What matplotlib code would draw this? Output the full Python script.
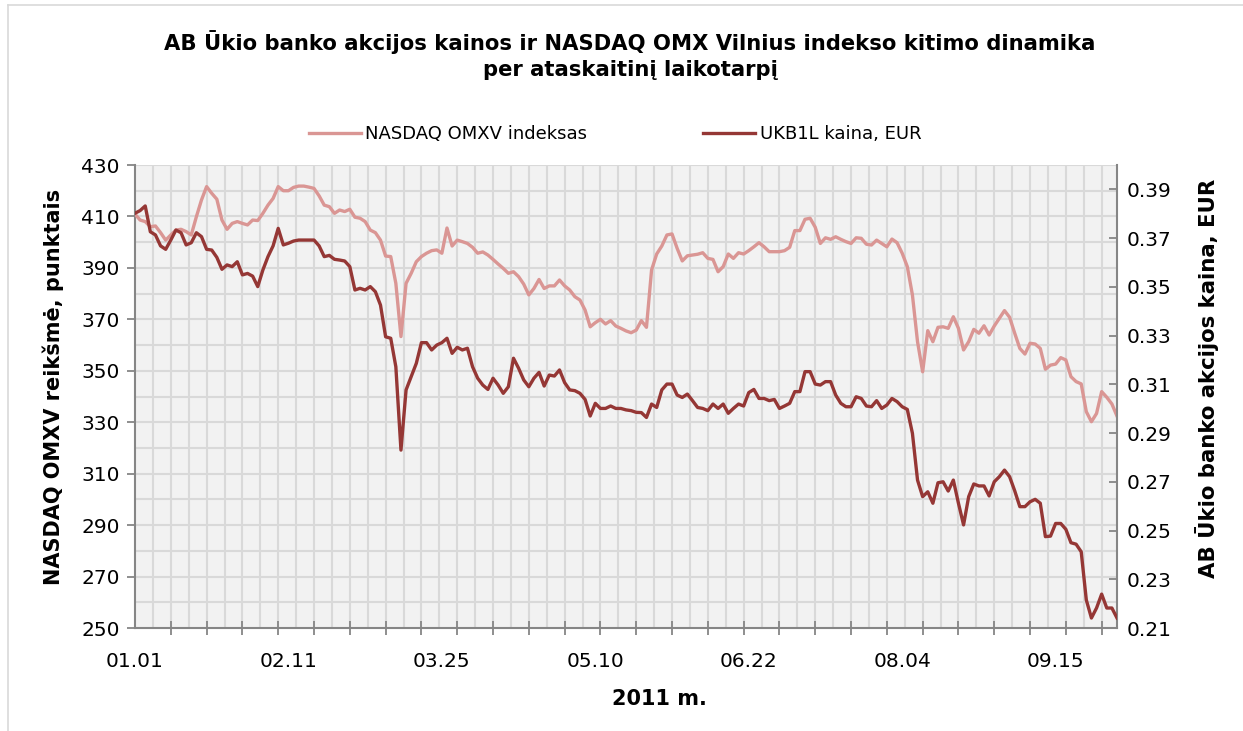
import numpy as np
import matplotlib
matplotlib.use("Agg")
import matplotlib.pyplot as plt
from matplotlib.lines import Line2D

# --- data (trading days, 2011) ---
tick_labels = ["01.01", "02.11", "03.25", "05.10", "06.22", "08.04", "09.15"]

# NASDAQ OMXV index, points (left axis)
nasdaq = [
    410.9, 408.6, 408.0, 406.0, 406.3, 403.7, 400.8, 402.8, 404.7, 405.0,
    404.1, 402.8, 409.9, 416.4, 421.6, 419.0, 416.7, 408.6, 405.0, 407.3,
    408.0, 407.3, 406.7, 408.6, 408.4, 411.2, 414.4, 417.0, 421.6, 420.0,
    420.0, 421.3,
    421.8, 421.8, 421.4, 420.9, 418.0, 414.4, 413.8, 411.2, 412.5, 411.9,
    412.8, 409.7, 409.3, 408.0, 404.7, 403.7, 400.8, 394.6, 394.4, 384.0,
    363.3, 384.0, 387.9, 392.4, 394.4, 395.7, 396.7, 397.0, 395.7, 405.5,
    398.5, 400.8, 400.2, 399.5, 398.0, 395.7, 396.2, 395.0, 393.3, 391.5,
    389.8, 387.9, 388.5, 386.6, 383.7, 379.5, 382.0, 385.5, 382.0, 383.0,
    383.0, 385.3, 383.0, 381.4, 378.8, 377.5, 373.6, 367.1, 368.7, 370.0,
    368.2, 369.5,
    367.4, 366.5, 365.5, 364.8, 365.8, 369.5, 366.9, 389.2, 395.4, 398.5,
    402.8, 403.2, 397.6, 392.7, 394.7, 395.0, 395.3, 395.9, 393.7, 393.3,
    388.5, 390.5, 395.4, 393.7, 395.9, 395.4, 396.7, 398.2, 399.8, 398.2,
    396.3, 396.3,
    396.3, 396.7, 398.0, 404.5, 404.5, 408.9, 409.3, 405.8, 399.5, 401.7,
    401.1, 402.1, 401.1, 400.2, 399.5, 401.7, 401.5, 399.2, 398.9, 400.8,
    399.5, 398.2, 401.2, 399.8, 395.7, 390.5, 379.5, 361.3, 349.6, 365.6,
    361.3,
    366.9, 367.1, 366.5, 371.0, 366.5, 358.1, 361.3, 366.1, 364.6, 367.5,
    363.9, 367.4, 370.4, 373.4, 370.8, 364.6, 358.7, 356.5, 360.7, 360.4,
    358.7, 350.6, 352.2, 352.6, 355.1, 354.2, 347.7, 345.8, 344.9, 334.1,
    330.2, 333.4, 341.9, 339.7, 337.1, 332.4,
]

# UKB1L share price, EUR (right axis)
ukb = [
    0.3802, 0.3813, 0.3832, 0.3726, 0.3713, 0.3668, 0.3654, 0.3692, 0.3733, 0.3722,
    0.3672, 0.3681, 0.3722, 0.3706, 0.3654, 0.3651, 0.3621, 0.3572, 0.3590, 0.3583,
    0.3603, 0.3549, 0.3555, 0.3544, 0.3501, 0.3569, 0.3624, 0.3668, 0.3740, 0.3672,
    0.3679, 0.3688,
    0.3692, 0.3692, 0.3692, 0.3692, 0.3668, 0.3624, 0.3629, 0.3613, 0.3610, 0.3606,
    0.3583, 0.3487, 0.3494, 0.3487, 0.3501, 0.3480, 0.3425, 0.3295, 0.3289, 0.3172,
    0.2830, 0.3077, 0.3131, 0.3186, 0.3271, 0.3271, 0.3241, 0.3261, 0.3271, 0.3289,
    0.3227, 0.3252, 0.3241, 0.3248, 0.3172, 0.3125, 0.3097, 0.3079, 0.3125, 0.3097,
    0.3063, 0.3090, 0.3207, 0.3166, 0.3118, 0.3090, 0.3125, 0.3149, 0.3093, 0.3138,
    0.3134, 0.3159, 0.3107, 0.3077, 0.3074, 0.3063, 0.3038, 0.2970, 0.3022, 0.3001,
    0.3001, 0.3011,
    0.3001, 0.3001, 0.2995, 0.2992, 0.2985, 0.2984, 0.2964, 0.3019, 0.3005, 0.3077,
    0.3101, 0.3101, 0.3056, 0.3046, 0.3060, 0.3033, 0.3005, 0.3001, 0.2992, 0.3019,
    0.3001, 0.3019, 0.2981, 0.3001, 0.3019, 0.3011, 0.3066, 0.3079, 0.3042, 0.3042,
    0.3033, 0.3038,
    0.3001, 0.3011, 0.3022, 0.3070, 0.3070, 0.3152, 0.3152, 0.3101, 0.3097, 0.3111,
    0.3111, 0.3056, 0.3022, 0.3008, 0.3008, 0.3049, 0.3042, 0.3011, 0.3008, 0.3033,
    0.3001, 0.3015, 0.3042, 0.3029, 0.3008, 0.2997, 0.2899, 0.2707, 0.2639, 0.2659,
    0.2612,
    0.2696, 0.2700, 0.2662, 0.2707, 0.2612, 0.2523, 0.2639, 0.2691, 0.2683, 0.2683,
    0.2642, 0.2700, 0.2721, 0.2748, 0.2721, 0.2663, 0.2598, 0.2598, 0.2618, 0.2628,
    0.2612, 0.2475, 0.2477, 0.2529, 0.2529, 0.2505, 0.2450, 0.2444, 0.2413, 0.2215,
    0.2141, 0.2182, 0.2239, 0.2182, 0.2182, 0.2141,
]

light = "#DA9694"
dark = "#953735"
axis_col = "#868686"
grid_col = "#D9D9D9"

plt.rcParams["font.family"] = ["DejaVu Sans"]

fig = plt.figure(figsize=(12.43, 7.31), dpi=100)
ax = fig.add_axes([135 / 1243, 1 - 628 / 731, 982 / 1243, 463 / 731])
ax2 = ax.twinx()

x = np.arange(len(nasdaq))
n = len(x)

ax.set_facecolor("#F2F2F2")
# grid: every 10 points horizontally, every half week vertically
for gy in range(260, 431, 10):
    ax.axhline(gy, color=grid_col, lw=1.5, zorder=0.5)
for gx in np.arange(3.5, n, 3.5):
    ax.axvline(gx, color=grid_col, lw=1.5, zorder=0.5)

l1, = ax.plot(x, nasdaq, color=light, lw=2.4, zorder=3, solid_joinstyle="round")
l2, = ax2.plot(x, ukb, color=dark, lw=2.4, zorder=3, solid_joinstyle="round")

ax.set_xlim(0, n - 1)
ax.set_ylim(250, 430)
ax2.set_ylim(0.21, 0.40)

ax.set_yticks(range(250, 431, 20))
ax2.set_yticks(np.arange(0.21, 0.395, 0.02))
ax2.set_yticklabels([f"{v:.2f}" for v in np.arange(0.21, 0.395, 0.02)])

ax.set_xticks(np.arange(0, n, 30))
ax.set_xticklabels(tick_labels)
ax.set_xticks(np.arange(0, n, 7), minor=True)

for a in (ax, ax2):
    a.spines["top"].set_visible(False)
ax.spines["right"].set_visible(False)
ax2.spines["left"].set_visible(False)
ax2.spines["bottom"].set_visible(False)
for s in ("left", "bottom"):
    ax.spines[s].set_color(axis_col)
    ax.spines[s].set_linewidth(1.5)
ax2.spines["right"].set_color(axis_col)
ax2.spines["right"].set_linewidth(1.5)

ax.tick_params(axis="y", direction="out", length=6, width=1.3, color=axis_col,
               labelsize=14.5, pad=5)
ax2.tick_params(axis="y", direction="in", length=6, width=1.3, color=axis_col,
                labelsize=14.5, pad=7)
ax.tick_params(axis="x", which="major", length=0, labelsize=14.5, pad=17)
ax.tick_params(axis="x", which="minor", direction="inout", length=10, width=1.3,
               color=axis_col)

fig.text(630 / 1243, 1 - 55 / 731,
         "AB Ūkio banko akcijos kainos ir NASDAQ OMX Vilnius indekso kitimo dinamika\n"
         "per ataskaitinį laikotarpį",
         ha="center", va="center", fontsize=15.2, fontweight="bold", linespacing=1.4)

fig.legend([l1, l2], ["NASDAQ OMXV indeksas", "UKB1L kaina, EUR"],
           loc="center", bbox_to_anchor=(615 / 1243, 1 - 134 / 731), ncol=2,
           frameon=False, fontsize=13, handlelength=2.9, handletextpad=0.25,
           columnspacing=6.4)

fig.text(53 / 1243, 1 - 387 / 731, "NASDAQ OMXV reikšmė, punktais", rotation=90,
         ha="center", va="center", fontsize=15, fontweight="bold")
fig.text(1207 / 1243, 1 - 378 / 731, "AB Ūkio banko akcijos kaina, EUR", rotation=90,
         ha="center", va="center", fontsize=15.3, fontweight="bold")
fig.text(659 / 1243, 1 - 699 / 731, "2011 m.", ha="center", va="center",
         fontsize=15, fontweight="bold")

# chart area border
fig.add_artist(Line2D([8 / 1243, 8 / 1243], [0, 1 - 5 / 731], transform=fig.transFigure,
                      color=grid_col, lw=1.2))
fig.add_artist(Line2D([8 / 1243, 1], [1 - 5 / 731, 1 - 5 / 731], transform=fig.transFigure,
                      color=grid_col, lw=1.2))

fig.savefig("out.png", dpi=100, facecolor="white")
